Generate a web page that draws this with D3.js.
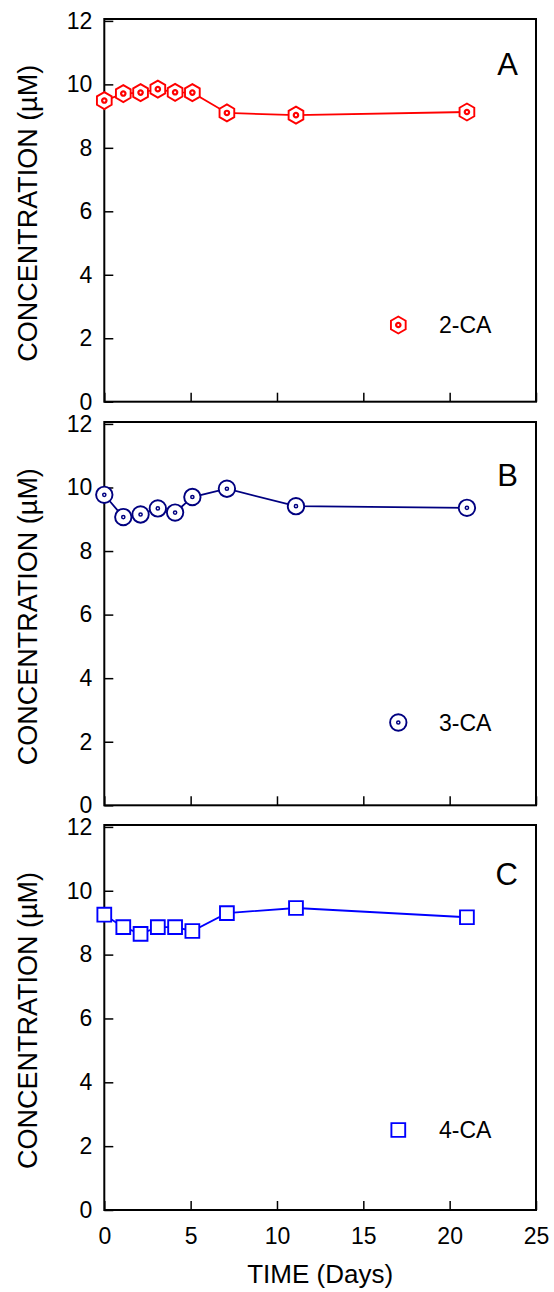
<!DOCTYPE html>
<html>
<head>
<meta charset="utf-8">
<script src="https://cdn.jsdelivr.net/npm/d3@7"></script>
<style>
  html, body { margin: 0; padding: 0; background: #fff; }
  svg { display: block; }
  text { font-family: Arial, "Liberation Sans", Helvetica, sans-serif; fill: #000; }
</style>
</head>
<body>
<svg id="chart" width="554" height="1292"></svg>
<script>
// ---------- data ----------
const days = [0, 1.1, 2.1, 3.1, 4.1, 5.1, 7.1, 11.1, 21];
const ca2 = [9.49, 9.71, 9.74, 9.85, 9.75, 9.74, 9.10, 9.03, 9.13];
const ca3 = [9.77, 9.07, 9.15, 9.34, 9.21, 9.70, 9.96, 9.41, 9.36];
const ca4 = [9.25, 8.86, 8.65, 8.86, 8.86, 8.74, 9.30, 9.46, 9.17];
const seriesNames = ["2-CA", "3-CA", "4-CA"];
const panelLetters = ["A", "B", "C"];
const yTicks = [0, 2, 4, 6, 8, 10, 12];
const xTicks = [0, 5, 10, 15, 20, 25];
const xTitle = "TIME (Days)";
const yTitle = "CONCENTRATION (µM)";

// ---------- layout ----------
const svg = d3.select("#chart");
const left = 104.3, right = 536;
const panels = [
  { top: 19,  bottom: 401.7, vals: ca2, color: "#ff0000", sym: "hex",    letterY: 75,  legendY: 325 },
  { top: 422, bottom: 805.3, vals: ca3, color: "#000080", sym: "circle", letterY: 486, legendY: 722.5 },
  { top: 825, bottom: 1210,  vals: ca4, color: "#0000ff", sym: "square", letterY: 885, legendY: 1130 }
];

const x = d3.scaleLinear().domain([0, 25]).range([left, right]);

const hexSymbol = {
  draw(ctx, size) {
    const r = Math.sqrt(size);
    for (let i = 0; i < 6; i++) {
      const a = -Math.PI / 2 + i * Math.PI / 3;
      const px = r * Math.cos(a), py = r * Math.sin(a);
      if (i === 0) ctx.moveTo(px, py); else ctx.lineTo(px, py);
    }
    ctx.closePath();
  }
};

function drawMarker(g, type, color) {
  if (type === "hex") {
    g.append("path").attr("d", d3.symbol(hexSymbol, 8.5 * 8.5)())
      .attr("fill", "#fff").attr("stroke", color).attr("stroke-width", 1.9);
    g.append("circle").attr("r", 2.2).attr("fill", "none")
      .attr("stroke", color).attr("stroke-width", 2.2);
  } else if (type === "circle") {
    g.append("circle").attr("r", 8.2).attr("fill", "#fff")
      .attr("stroke", color).attr("stroke-width", 1.9);
    g.append("circle").attr("r", 1.6).attr("fill", "none")
      .attr("stroke", color).attr("stroke-width", 1.5);
  } else {
    g.append("path").attr("d", d3.symbol(d3.symbolSquare, 13.8 * 13.8)())
      .attr("fill", "#fff").attr("stroke", color).attr("stroke-width", 1.9);
  }
}

panels.forEach((p, i) => {
  const y = d3.scaleLinear().domain([0, 12.06]).range([p.bottom, p.top]);
  const g = svg.append("g");

  // left axis (inward ticks)
  const ya = g.append("g").attr("transform", `translate(${left},0)`)
    .call(d3.axisLeft(y).tickValues(yTicks).tickSizeInner(-9).tickSizeOuter(0).tickPadding(12));
  ya.select(".domain").remove();
  ya.selectAll("line").attr("stroke", "#000").attr("stroke-width", 1.5);
  ya.selectAll("text").attr("font-size", 23).attr("font-family", "Arial, Liberation Sans, sans-serif")
    .attr("fill", "#000");

  // bottom axis
  const xa = g.append("g").attr("transform", `translate(0,${p.bottom})`)
    .call(d3.axisBottom(x).tickValues(xTicks).tickSizeInner(-9).tickSizeOuter(0).tickPadding(17.7));
  xa.select(".domain").remove();
  xa.selectAll("line").attr("stroke", "#000").attr("stroke-width", 1.5);
  xa.selectAll("text").attr("font-size", 23).attr("font-family", "Arial, Liberation Sans, sans-serif")
    .attr("fill", "#000");
  if (i < 2) xa.selectAll("text").remove();

  // frame
  g.append("rect").attr("x", left).attr("y", p.top)
    .attr("width", right - left).attr("height", p.bottom - p.top)
    .attr("fill", "none").attr("stroke", "#000").attr("stroke-width", 2);

  // line
  const line = d3.line().x((d, j) => x(days[j])).y(d => y(d));
  g.append("path").datum(p.vals).attr("d", line)
    .attr("fill", "none").attr("stroke", p.color).attr("stroke-width", 1.8);

  // markers
  p.vals.forEach((v, j) => {
    const m = g.append("g").attr("transform", `translate(${x(days[j])},${y(v)})`);
    drawMarker(m, p.sym, p.color);
  });

  // legend
  const lg = g.append("g").attr("transform", `translate(398.3,${p.legendY})`);
  drawMarker(lg, p.sym, p.color);
  g.append("text").attr("x", 439).attr("y", p.legendY + 8.3)
    .attr("font-size", 23).text(seriesNames[i]);

  // panel letter
  g.append("text").attr("x", 518).attr("y", p.letterY)
    .attr("text-anchor", "end").attr("font-size", 31).text(panelLetters[i]);

  // y title
  const cy = (p.top + p.bottom) / 2 + 3;
  g.append("text").attr("transform", `translate(37,${cy}) rotate(-90)`)
    .attr("text-anchor", "middle").attr("font-size", 27).text(yTitle);
});

svg.append("text").attr("x", (left + right) / 2).attr("y", 1283)
  .attr("text-anchor", "middle").attr("font-size", 26).text(xTitle);
</script>
</body>
</html>
